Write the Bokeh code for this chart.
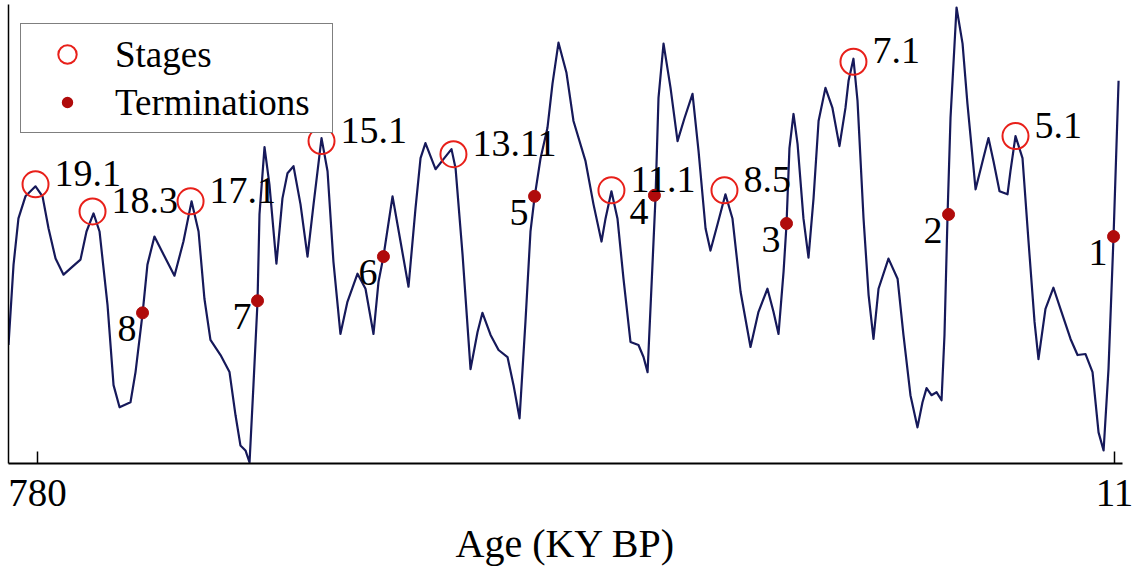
from bokeh.plotting import figure
from bokeh.models import Range1d, FixedTicker, Legend, LegendItem
from bokeh.core.properties import value
from bokeh.embed import file_html
from bokeh.resources import INLINE

# ---- data (age in ky BP, relative index) ----
age = [800.7, 797.1, 793.6, 788.6, 781.4, 776.4, 772.1, 767.1, 761.4, 755.0,
       749.3, 745.0, 740.0, 735.7, 730.0, 725.7, 721.4, 713.6, 710.0, 705.0,
       701.5, 696.5, 690.0, 682.2, 675.8, 670.0, 665.0, 660.8, 656.5, 649.3,
       642.9, 638.6, 635.1, 631.5, 628.6, 625.8, 622.9, 621.5, 617.9, 614.4,
       609.4, 605.1, 601.5, 597.2, 592.2, 587.2, 582.9, 577.2, 572.9, 568.7,
       563.7, 558.7, 551.5, 545.8, 540.1, 536.5, 533.0, 526.5, 520.8, 515.1,
       510.1, 506.5, 503.0, 495.8, 490.1, 484.4, 481.5, 476.5, 470.8, 465.8,
       462.3, 456.5, 450.8, 444.4, 440.1, 435.8, 431.6, 428.0, 425.1, 420.8,
       415.9, 412.3, 408.0, 402.3, 397.3, 388.7, 383.0, 377.3, 374.4, 370.2,
       365.9, 361.6, 356.6, 350.9, 347.3, 344.4, 340.9, 338.7, 336.6, 333.0,
       328.0, 323.0, 318.0, 312.3, 308.0, 303.0, 299.5, 294.5, 288.8, 283.8,
       278.0, 270.9, 265.2, 258.8, 254.5, 250.9, 247.3, 245.2, 243.1, 240.2,
       237.3, 233.1, 229.5, 225.9, 222.3, 217.4, 212.4, 207.4, 203.1, 200.9,
       197.4, 194.5, 190.2, 186.6, 183.1, 179.5, 172.4, 165.9, 161.7, 156.7,
       151.7, 148.1, 145.2, 141.7, 138.1, 134.5, 132.4, 130.2, 128.1, 123.8,
       119.5, 116.0, 110.2, 105.2, 101.0, 97.4, 93.1, 87.4, 85.3, 81.7,
       76.7, 72.4, 68.1, 65.3, 60.3, 54.6, 49.6, 42.4, 37.4, 31.7,
       26.7, 22.4, 18.8, 15.3, 11.7, 8.1]
index = [118, 198, 244, 266, 276, 266, 234, 204, 188, 196,
         203, 231, 249, 231, 158, 78, 56, 61, 91, 149,
         198, 226, 208, 187, 221, 261, 231, 164, 123, 108,
         91, 48, 18, 13, 1, 78, 161, 248, 315, 278,
         199, 264, 289, 296, 258, 206, 258, 324, 291, 201,
         129, 161, 189, 174, 129, 181, 206, 266, 221, 176,
         254, 304, 319, 293, 303, 313, 294, 208, 94, 131,
         150, 128, 113, 106, 78, 45, 141, 231, 265, 304,
         334, 378, 419, 389, 341, 301, 258, 221, 244, 271,
         244, 184, 121, 118, 106, 91, 198, 266, 364, 418,
         374, 321, 344, 368, 311, 234, 212, 238, 268, 244,
         171, 116, 151, 174, 151, 129, 191, 238, 314, 348,
         318, 244, 205, 264, 341, 374, 354, 316, 354, 381,
         403, 361, 244, 168, 124, 174, 204, 184, 128, 68,
         36, 61, 75, 68, 71, 63, 128, 248, 344, 454,
         418, 358, 273, 301, 324, 301, 271, 268, 291, 326,
         304, 221, 141, 104, 154, 175, 154, 124, 108, 109,
         91, 31, 13, 94, 226, 381]

stage_labels = ["19.1", "18.3", "17.1", "15.1", "13.11", "11.1", "8.5", "7.1", "5.1"]
stage_age = [781.4, 740.7, 670.7, 577.2, 483.0, 370.2, 289.5, 197.4, 81.7]
stage_val = [278, 251, 261, 321, 308, 272, 272, 400, 326]

term_labels = ["8", "7", "6", "5", "4", "3", "2", "1"]
term_age = [705.0, 622.9, 533.0, 425.1, 339.5, 245.2, 129.5, 11.7]
term_val = [150, 162, 206, 266, 267, 239, 248, 226]

tick_ages = [780, 11]

FONT = "Liberation Serif"
CURVE = "#16195a"
RING = "#e8201a"
DOT = "#b00b0b"
NAN = float("nan")

p = figure(width=1133, height=568,
           x_range=Range1d(800.7, 5.3), y_range=Range1d(0, 457),
           output_backend="svg", toolbar_location=None,
           min_border_left=8, min_border_right=11,
           min_border_top=4, min_border_bottom=0)
p.outline_line_color = None
p.grid.visible = False
p.background_fill_color = "white"

p.line(age, index, line_color=CURVE, line_width=2.2, line_join="round")
p.scatter(stage_age, stage_val, marker="circle", size=26,
          fill_color=None, line_color=RING, line_width=2)
p.scatter(term_age, term_val, marker="circle", size=12,
          fill_color=DOT, line_color=DOT, line_width=1)

p.text(x=stage_age, y=stage_val, text=stage_labels,
       text_font=value(FONT), text_font_size="38px", text_color="black",
       text_align="left", text_baseline="middle", x_offset=19, y_offset=-11)
p.text(x=term_age, y=term_val, text=term_labels,
       text_font=value(FONT), text_font_size="38px", text_color="black",
       text_align="right", text_baseline="middle", x_offset=-6, y_offset=16)

xa = p.xaxis[0]
xa.ticker = FixedTicker(ticks=tick_ages)
xa.minor_tick_line_color = None
xa.major_tick_in = 12
xa.major_tick_out = 0
xa.major_tick_line_width = 1.5
xa.major_tick_line_color = "black"
xa.axis_line_width = 2
xa.axis_line_color = "black"
xa.major_label_text_font = FONT
xa.major_label_text_font_size = "39px"
xa.major_label_text_color = "black"
xa.major_label_standoff = 16
xa.axis_label = "Age (KY BP)"
xa.axis_label_text_font = FONT
xa.axis_label_text_font_size = "40px"
xa.axis_label_text_font_style = "normal"
xa.axis_label_text_color = "black"
xa.axis_label_standoff = 12

ya = p.yaxis[0]
ya.ticker = FixedTicker(ticks=[])
ya.major_tick_line_color = None
ya.minor_tick_line_color = None
ya.major_label_text_font_size = "0px"
ya.major_label_standoff = 0
ya.axis_line_width = 1.5
ya.axis_line_color = "black"

# legend-only renderers (one off-screen point each)
r_s = p.scatter([NAN], [NAN], marker="circle", size=26, fill_color=None,
                line_color=RING, line_width=2)
r_t = p.scatter([NAN], [NAN], marker="circle", size=12, fill_color=DOT,
                line_color="white", line_width=7)
legend = Legend(items=[LegendItem(label="Stages", renderers=[r_s]),
                       LegendItem(label="Terminations", renderers=[r_t])],
                location=(12, 330), padding=7, spacing=2,
                glyph_width=78, glyph_height=46, label_standoff=9,
                label_width=210,
                label_text_font=FONT, label_text_font_size="37px",
                label_text_color="black",
                border_line_color="black", border_line_width=1.8,
                background_fill_color="white", background_fill_alpha=1.0)
p.add_layout(legend)

open("out.html", "w").write(file_html(p, INLINE))
